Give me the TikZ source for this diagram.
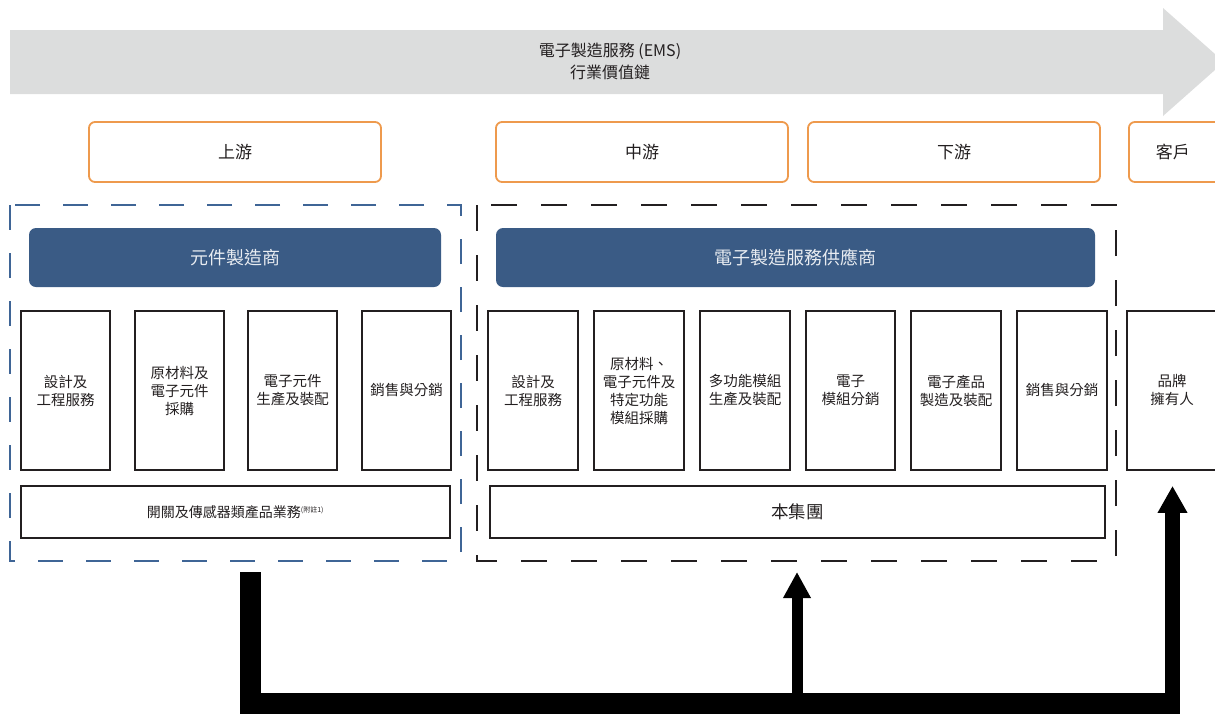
\documentclass[tikz,border=0pt]{standalone}
\usepackage{fontspec}
\setmainfont{Noto Sans CJK TC}
\usetikzlibrary{arrows.meta}
\definecolor{arrgrey}{HTML}{DCDDDD}
\definecolor{orng}{HTML}{EE9A4D}
\definecolor{navy}{HTML}{3A5B85}
\definecolor{dashblue}{HTML}{3F6596}
\definecolor{ink}{HTML}{231F20}
\definecolor{pale}{HTML}{E8ECF1}
\begin{document}
\begin{tikzpicture}[x=1pt,y=-1pt,
  stagebox/.style={draw=orng, line width=1.8pt, rounded corners=6pt, minimum width=292pt, minimum height=60pt, inner sep=0pt, text=ink, font=\fontsize{17}{17}\selectfont},
  makerbox/.style={fill=navy, rounded corners=7pt, minimum height=59pt, inner sep=0pt, text=pale, font=\fontsize{18}{18}\selectfont},
  stepbox/.style={draw=ink, line width=1.8pt, minimum width=89pt, minimum height=159pt, inner sep=0pt, align=center, text=ink, font=\fontsize{14.5}{18}\selectfont},
  widebox/.style={draw=ink, line width=1.8pt, minimum height=52pt, inner sep=0pt, text=ink, font=\fontsize{14}{14}\selectfont},
  flow/.style={black, line width=#1},
]
\useasboundingbox (0,0) rectangle (1215,713);
\clip (0,0) rectangle (1215,713);

% big grey value-chain arrow
\fill[arrgrey] (10,30) -- (1163,30) -- (1163,8) -- (1224,62) -- (1163,116) -- (1163,94) -- (10,94) -- cycle;
\node[align=center, text=ink, font=\fontsize{16}{22}\selectfont] (title) at (610,61) {電子製造服務 (EMS)\\行業價值鏈};

% stage boxes
\node[stagebox] (up) at (235,152) {上游};
\node[stagebox] (mid) at (642,152) {中游};
\node[stagebox] (down) at (954,152) {下游};
\node[stagebox, anchor=west, minimum width=0pt, text width=240pt, inner xsep=27pt, align=left] (cust) at (1128,152) {客戶};

% dashed group frames
\draw[dashblue, line width=1.8pt, dash pattern=on 25pt off 23pt] (10,205) rectangle (461,561);
\draw[ink, line width=1.8pt, dash pattern=on 26pt off 24pt] (477,205) rectangle (1116,561);

% maker headers
\node[makerbox, minimum width=412pt] (comp) at (235,257.5) {元件製造商};
\node[makerbox, minimum width=599pt] (ems) at (795.5,257.5) {電子製造服務供應商};

% upstream steps
\node[stepbox] (u1) at (65.5,390.5) {設計及\\工程服務};
\node[stepbox] (u2) at (179.5,390.5) {原材料及\\電子元件\\採購};
\node[stepbox] (u3) at (292.5,390.5) {電子元件\\生產及裝配};
\node[stepbox] (u4) at (406.5,390.5) {銷售與分銷};

% EMS steps
\node[stepbox, minimum width=90pt] (m1) at (533,390.5) {設計及\\工程服務};
\node[stepbox, minimum width=90pt] (m2) at (639,390.5) {原材料、\\電子元件及\\特定功能\\模組採購};
\node[stepbox, minimum width=90pt] (m3) at (745,390.5) {多功能模組\\生產及裝配};
\node[stepbox] (m4) at (850.5,390.5) {電子\\模組分銷};
\node[stepbox, minimum width=90pt] (m5) at (956,390.5) {電子產品\\製造及裝配};
\node[stepbox, minimum width=90pt] (m6) at (1062,390.5) {銷售與分銷};

% brand owner
\node[stepbox, minimum width=90pt] (brand) at (1172,390.5) {品牌\\擁有人};

% wide business boxes
\node[widebox, minimum width=429pt] (sensor) at (235.5,512) {開關及傳感器類產品業務\textsuperscript{\fontsize{7}{7}\selectfont(附註1)}};
\node[widebox, minimum width=615pt, font=\fontsize{17.5}{17.5}\selectfont] (group) at (797.5,512) {本集團};

% flow arrows
\coordinate (srcL) at (250,572);
\coordinate (emsbot) at (797,561);
\coordinate (barR) at (1180,703);
\draw[flow=21pt, line join=miter] (srcL) |- (barR);
\draw[flow=11pt, -{Triangle[width=26pt,length=26pt]}, shorten >=11pt] (emsbot |- barR) -- (emsbot);
\draw[flow=15pt, -{Triangle[width=28pt,length=27pt]}, shorten >=15pt] ([xshift=0.5pt]brand.south |- barR) ++(0,11) -- ([xshift=0.5pt]brand.south);
\end{tikzpicture}
\end{document}
